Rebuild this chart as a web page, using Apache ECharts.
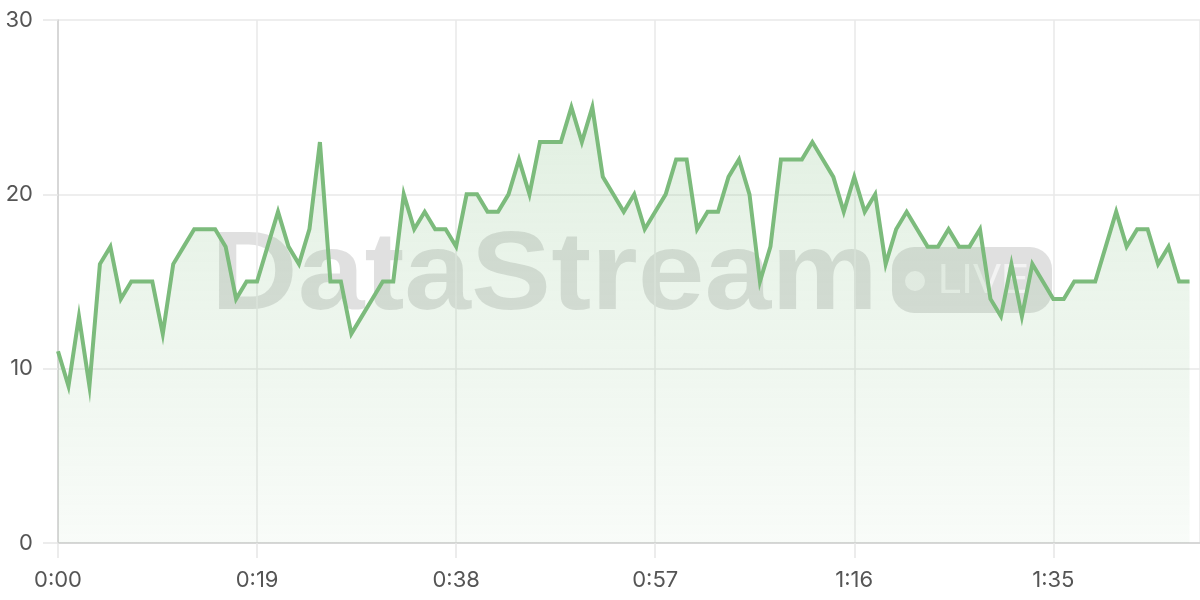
<!DOCTYPE html>
<html>
<head>
<meta charset="UTF-8">
<title>DataStream live</title>
<script src="https://cdn.jsdelivr.net/npm/echarts@6/dist/echarts.min.js"></script>
<style>
  html, body { margin: 0; padding: 0; background: #fff; }
  #main { width: 1200px; height: 600px; }
</style>
</head>
<body>
<div id="main"></div>
<script type="text/javascript">
// one reading per second, 0:00 .. 1:48
var values = [
  11, 9, 13, 9, 16, 17, 14, 15, 15, 15,
  12, 16, 17, 18, 18, 18, 17, 14, 15, 15,
  17, 19, 17, 16, 18, 23, 15, 15, 12, 13,
  14, 15, 15, 20, 18, 19, 18, 18, 17, 20,
  20, 19, 19, 20, 22, 20, 23, 23, 23, 25,
  23, 25, 21, 20, 19, 20, 18, 19, 20, 22,
  22, 18, 19, 19, 21, 22, 20, 15, 17, 22,
  22, 22, 23, 22, 21, 19, 21, 19, 20, 16,
  18, 19, 18, 17, 17, 18, 17, 17, 18, 14,
  13, 16, 13, 16, 15, 14, 14, 15, 15, 15,
  17, 19, 17, 18, 18, 16, 17, 15, 15
];
var yTicks = [0, 10, 20, 30];
var xTickStep = 19;   // seconds between x labels
var xMax = 109;

function fmtTime(s) {
  var m = Math.floor(s / 60);
  var r = s % 60;
  return m + ':' + (r < 10 ? '0' : '') + r;
}

var points = [];
for (var i = 0; i < values.length; i++) {
  points.push([i, values[i]]);
}

var lineColor = '#7cbb7c';
var labelFont = 'Inter, "Liberation Sans", Arial, sans-serif';
var markFont = '"Liberation Sans", Arial, sans-serif';
var wmColor = 'rgba(0,0,0,0.12)';

var myChart = echarts.init(document.getElementById('main'));
var option = {
  animation: false,
  grid: { left: 58, right: 0, top: 20, bottom: 57 },
  xAxis: {
    type: 'value',
    min: 0,
    max: xMax,
    interval: xTickStep,
    axisLine: { show: true, lineStyle: { color: '#cfcfcf', width: 1.5 } },
    axisTick: { show: true, length: 15, lineStyle: { color: '#e6e6e6', width: 1.5 } },
    splitLine: { show: true, lineStyle: { color: '#e9e9e9', width: 1.5 } },
    axisLabel: {
      margin: 26,
      fontSize: 22,
      color: '#555',
      fontFamily: labelFont,
      showMaxLabel: false,
      formatter: function (v) { return fmtTime(v); }
    }
  },
  yAxis: {
    type: 'value',
    min: yTicks[0],
    max: yTicks[yTicks.length - 1],
    interval: yTicks[1] - yTicks[0],
    axisLine: { show: true, lineStyle: { color: '#cfcfcf', width: 1.5 } },
    axisTick: { show: true, length: 15, lineStyle: { color: '#e6e6e6', width: 1.5 } },
    splitLine: { show: true, lineStyle: { color: '#e9e9e9', width: 1.5 } },
    axisLabel: {
      margin: 25,
      fontSize: 22,
      color: '#555',
      fontFamily: labelFont
    }
  },
  graphic: [
    {
      type: 'text',
      z: 0,
      x: 211,
      y: 313,
      scaleY: 0.92,
      style: {
        x: 0, y: 23,
        text: 'DataStream',
        fontSize: 120,
        fontWeight: 'bold',
        fontFamily: markFont,
        fill: wmColor,
        verticalAlign: 'bottom'
      }
    },
    {
      type: 'rect',
      z: 0,
      shape: { x: 892, y: 247, width: 160, height: 66, r: 22 },
      style: { fill: wmColor }
    },
    {
      type: 'circle',
      z: 0,
      shape: { cx: 915, cy: 281, r: 10 },
      style: { fill: 'rgba(255,255,255,0.6)' }
    },
    {
      type: 'text',
      z: 0,
      style: {
        x: 938, y: 281,
        text: 'LIVE',
        fontSize: 42,
        fontFamily: markFont,
        fill: 'rgba(255,255,255,0.6)',
        verticalAlign: 'middle'
      }
    }
  ],
  series: [
    {
      type: 'line',
      data: points,
      showSymbol: false,
      symbol: 'none',
      z: 3,
      lineStyle: { color: lineColor, width: 4, join: 'miter' },
      areaStyle: {
        color: new echarts.graphic.LinearGradient(0, 0, 0, 1, [
          { offset: 0, color: 'rgba(124,187,124,0.32)' },
          { offset: 1, color: 'rgba(124,187,124,0.07)' }
        ])
      }
    }
  ]
};
myChart.setOption(option);
</script>
</body>
</html>
